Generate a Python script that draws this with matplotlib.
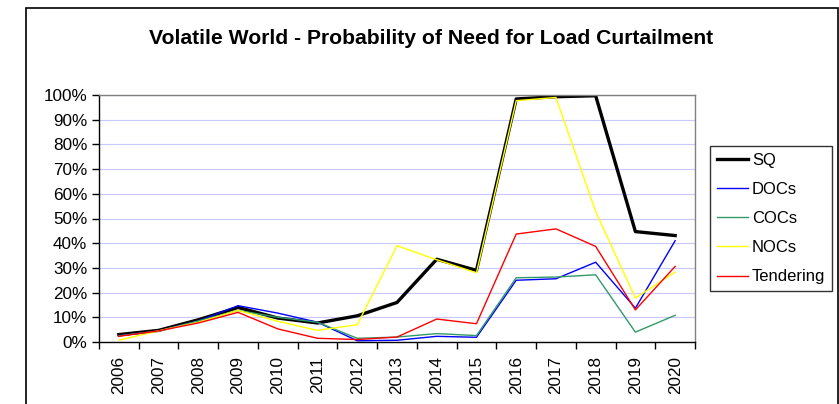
import numpy as np
import matplotlib
matplotlib.use('Agg')
from matplotlib import pyplot as plt
from matplotlib.patches import Rectangle

plt.rcParams['font.family'] = ['Liberation Sans', 'DejaVu Sans']

years = [str(y) for y in range(2006, 2021)]

# probability of need for load curtailment (%)
sq = [3, 4.7, 9, 14, 9.7, 7.7, 10.6, 16, 33.5, 29, 98.4, 99.3, 99.7, 44.7, 43.1]
docs = [2.5, 4.5, 8.5, 14.7, 11.7, 8, 0.5, 0.7, 2.3, 1.9, 25, 25.6, 32.3, 13.7, 41]
cocs = [2.5, 4.5, 8.5, 12.8, 10, 8, 1.5, 2, 3.4, 2.6, 26, 26.3, 27.2, 4, 10.8]
nocs = [0.7, 4.5, 8, 12.8, 8.4, 4.7, 7, 39, 33.3, 28, 97.7, 99, 52.8, 17.8, 28.3]
tendering = [2.3, 4.5, 7.7, 12, 5.3, 1.5, 1, 2, 9.3, 7.4, 43.7, 45.8, 38.7, 13, 30.6]

series = [
    ('SQ', sq, 'black', 2.4),
    ('DOCs', docs, '#0000ff', 1.0),
    ('COCs', cocs, '#339966', 1.0),
    ('NOCs', nocs, '#ffff00', 1.0),
    ('Tendering', tendering, '#ff0000', 1.0),
]

fig = plt.figure(figsize=(8.39, 4.04), dpi=100)
ax = fig.add_axes([99 / 839, 62 / 404, 596 / 839, 247 / 404])

x = np.arange(len(years))
for name, vals, color, lw in series:
    ax.plot(x, vals, color=color, lw=lw, label=name)

ax.set_xlim(-0.5, len(years) - 0.5)
ax.set_ylim(0, 100)

# y axis: percent ticks with light blue gridlines
ax.set_yticks(np.arange(0, 101, 10))
ax.set_yticklabels([f'{v}%' for v in range(0, 101, 10)], fontsize=12.3)
ax.yaxis.grid(True, color='#c8c8ff', lw=0.8)
ax.set_axisbelow(True)

# x axis: ticks between categories, labels centred
ax.set_xticks(np.arange(-0.5, len(years), 1))
ax.set_xticklabels([])
ax.set_xticks(x, minor=True)
ax.set_xticklabels(years, minor=True, rotation=90, fontsize=12.3)
ax.tick_params(axis='x', which='minor', length=0, pad=10)
ax.tick_params(axis='both', which='major', direction='out', length=5, width=1, color='black')

ax.spines['left'].set_color('black')
ax.spines['bottom'].set_color('black')
ax.spines['top'].set_color('#808080')
ax.spines['right'].set_color('#808080')
for s in ax.spines.values():
    s.set_linewidth(1)

fig.text(431 / 839, 1 - 38 / 404, 'Volatile World - Probability of Need for Load Curtailment',
         ha='center', va='center', fontsize=15.2, fontweight='bold')

leg = ax.legend(loc='upper left', bbox_to_anchor=(710 / 839, 1 - 146 / 404),
                bbox_transform=fig.transFigure, fontsize=12, frameon=True,
                fancybox=False, handlelength=1.9, handletextpad=0.22,
                labelspacing=0.85, borderpad=0.4, borderaxespad=0)
leg.get_frame().set_edgecolor('black')
leg.get_frame().set_linewidth(1)

# outer chart frame
fig.patches.append(Rectangle((26 / 839, -0.05), (838 - 26) / 839, 1.05 - 8 / 404,
                             transform=fig.transFigure, fill=False,
                             edgecolor='black', lw=1.2))

fig.savefig('out.png', dpi=100)
